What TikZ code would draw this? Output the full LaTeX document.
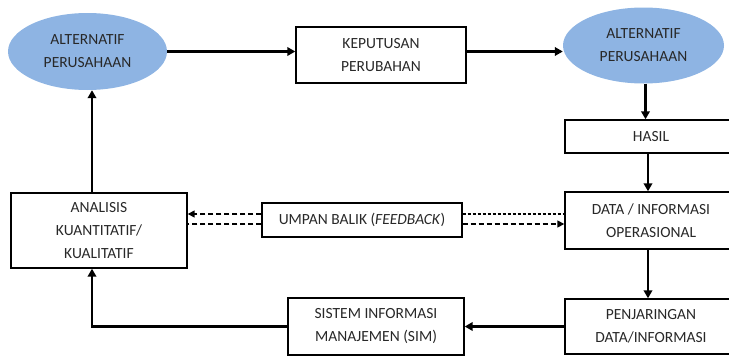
\documentclass[tikz,border=0pt]{standalone}
\usepackage{fontspec}
\setmainfont{Carlito}
\usetikzlibrary{arrows.meta,shapes.geometric}
\definecolor{ellblue}{RGB}{142,180,227}
\definecolor{txt}{RGB}{40,40,40}
\tikzset{
  every node/.style={font=\fontsize{15.5}{23}\selectfont, text=txt, align=center, inner sep=0pt},
  ell/.style={ellipse, fill=ellblue, draw=none, minimum width=#1},
  box/.style={draw, line width=1.4pt, minimum width=#1},
  flow/.style={line width=2.8pt, -{Triangle[length=8pt,width=8.5pt]}},
  plain/.style={line width=1.5pt, dash pattern=on 5pt off 3pt},
  fine/.style={line width=1.5pt, dash pattern=on 3pt off 2pt},
  fb/.style={line width=1.5pt, dash pattern=on 5pt off 3pt, -{Triangle[length=7pt,width=7pt]}},
}
\begin{document}
\begin{tikzpicture}[x=1pt,y=-1pt]
\useasboundingbox (0,0) rectangle (729,356);
\node[ell=159pt, minimum height=77pt] (e1) at (87.5,51.5) {ALTERNATIF\\PERUSAHAAN};
\node[box=170pt, minimum height=56pt] (kep) at (381,55) {KEPUTUSAN\\PERUBAHAN};
\node[ell=161pt, minimum height=76pt] (e2) at (643.5,45.5) {ALTERNATIF\\PERUSAHAAN};
\node[box=172pt, minimum height=33pt] (hasil) at (651,136.5) {HASIL};
\node[box=172pt, minimum height=57pt] (data) at (651,220.5) {DATA / INFORMASI\\OPERASIONAL};
\node[box=172pt, minimum height=55pt] (penj) at (651,326.5) {PENJARINGAN\\DATA/INFORMASI};
\node[box=176pt, minimum height=57pt] (sim) at (376,326.5) {SISTEM INFORMASI\\MANAJEMEN (SIM)};
\node[box=176pt, minimum height=75pt] (anal) at (99,230.5) {ANALISIS\\KUANTITATIF/\\KUALITATIF};
\node[box=200pt, minimum height=34pt] (umpan) at (362,220) {UMPAN BALIK (\textit{FEEDBACK})};

\coordinate (ls) at ([yshift=6pt]umpan.west);
\coordinate (ld) at ([yshift=-4pt]umpan.west);
\coordinate (rs) at ([yshift=6pt]umpan.east);
\coordinate (rd) at ([yshift=-4pt]umpan.east);

\draw[flow] (e1.east) -- (e1.east -| kep.west);
\draw[flow] (kep.east |- e1.east) -- (e1.east -| e2.west);
\draw[flow] ([xshift=2pt]e2.south) -- ([xshift=2pt]e2.south |- hasil.north);
\draw[flow] ([xshift=-3pt]hasil.south) -- ([xshift=-3pt]hasil.south |- data.north);
\draw[flow] ([xshift=-3pt]data.south) -- ([xshift=-3pt]data.south |- penj.north);
\draw[flow] (penj.west) -- (penj.west -| sim.east);
\draw[flow] (sim.west) -| ([xshift=-7pt]anal.south);
\draw[flow] ([xshift=-7pt]anal.north) -- ([xshift=-7pt]anal.north |- e1.south);

\draw[fb] (ls) -- (ls -| anal.east);
\draw[plain] (ld) -- (ld -| anal.east);
\draw[fine] (rs) -- (rs -| data.west);
\draw[fb] (rd) -- (rd -| data.west);
\end{tikzpicture}
\end{document}
